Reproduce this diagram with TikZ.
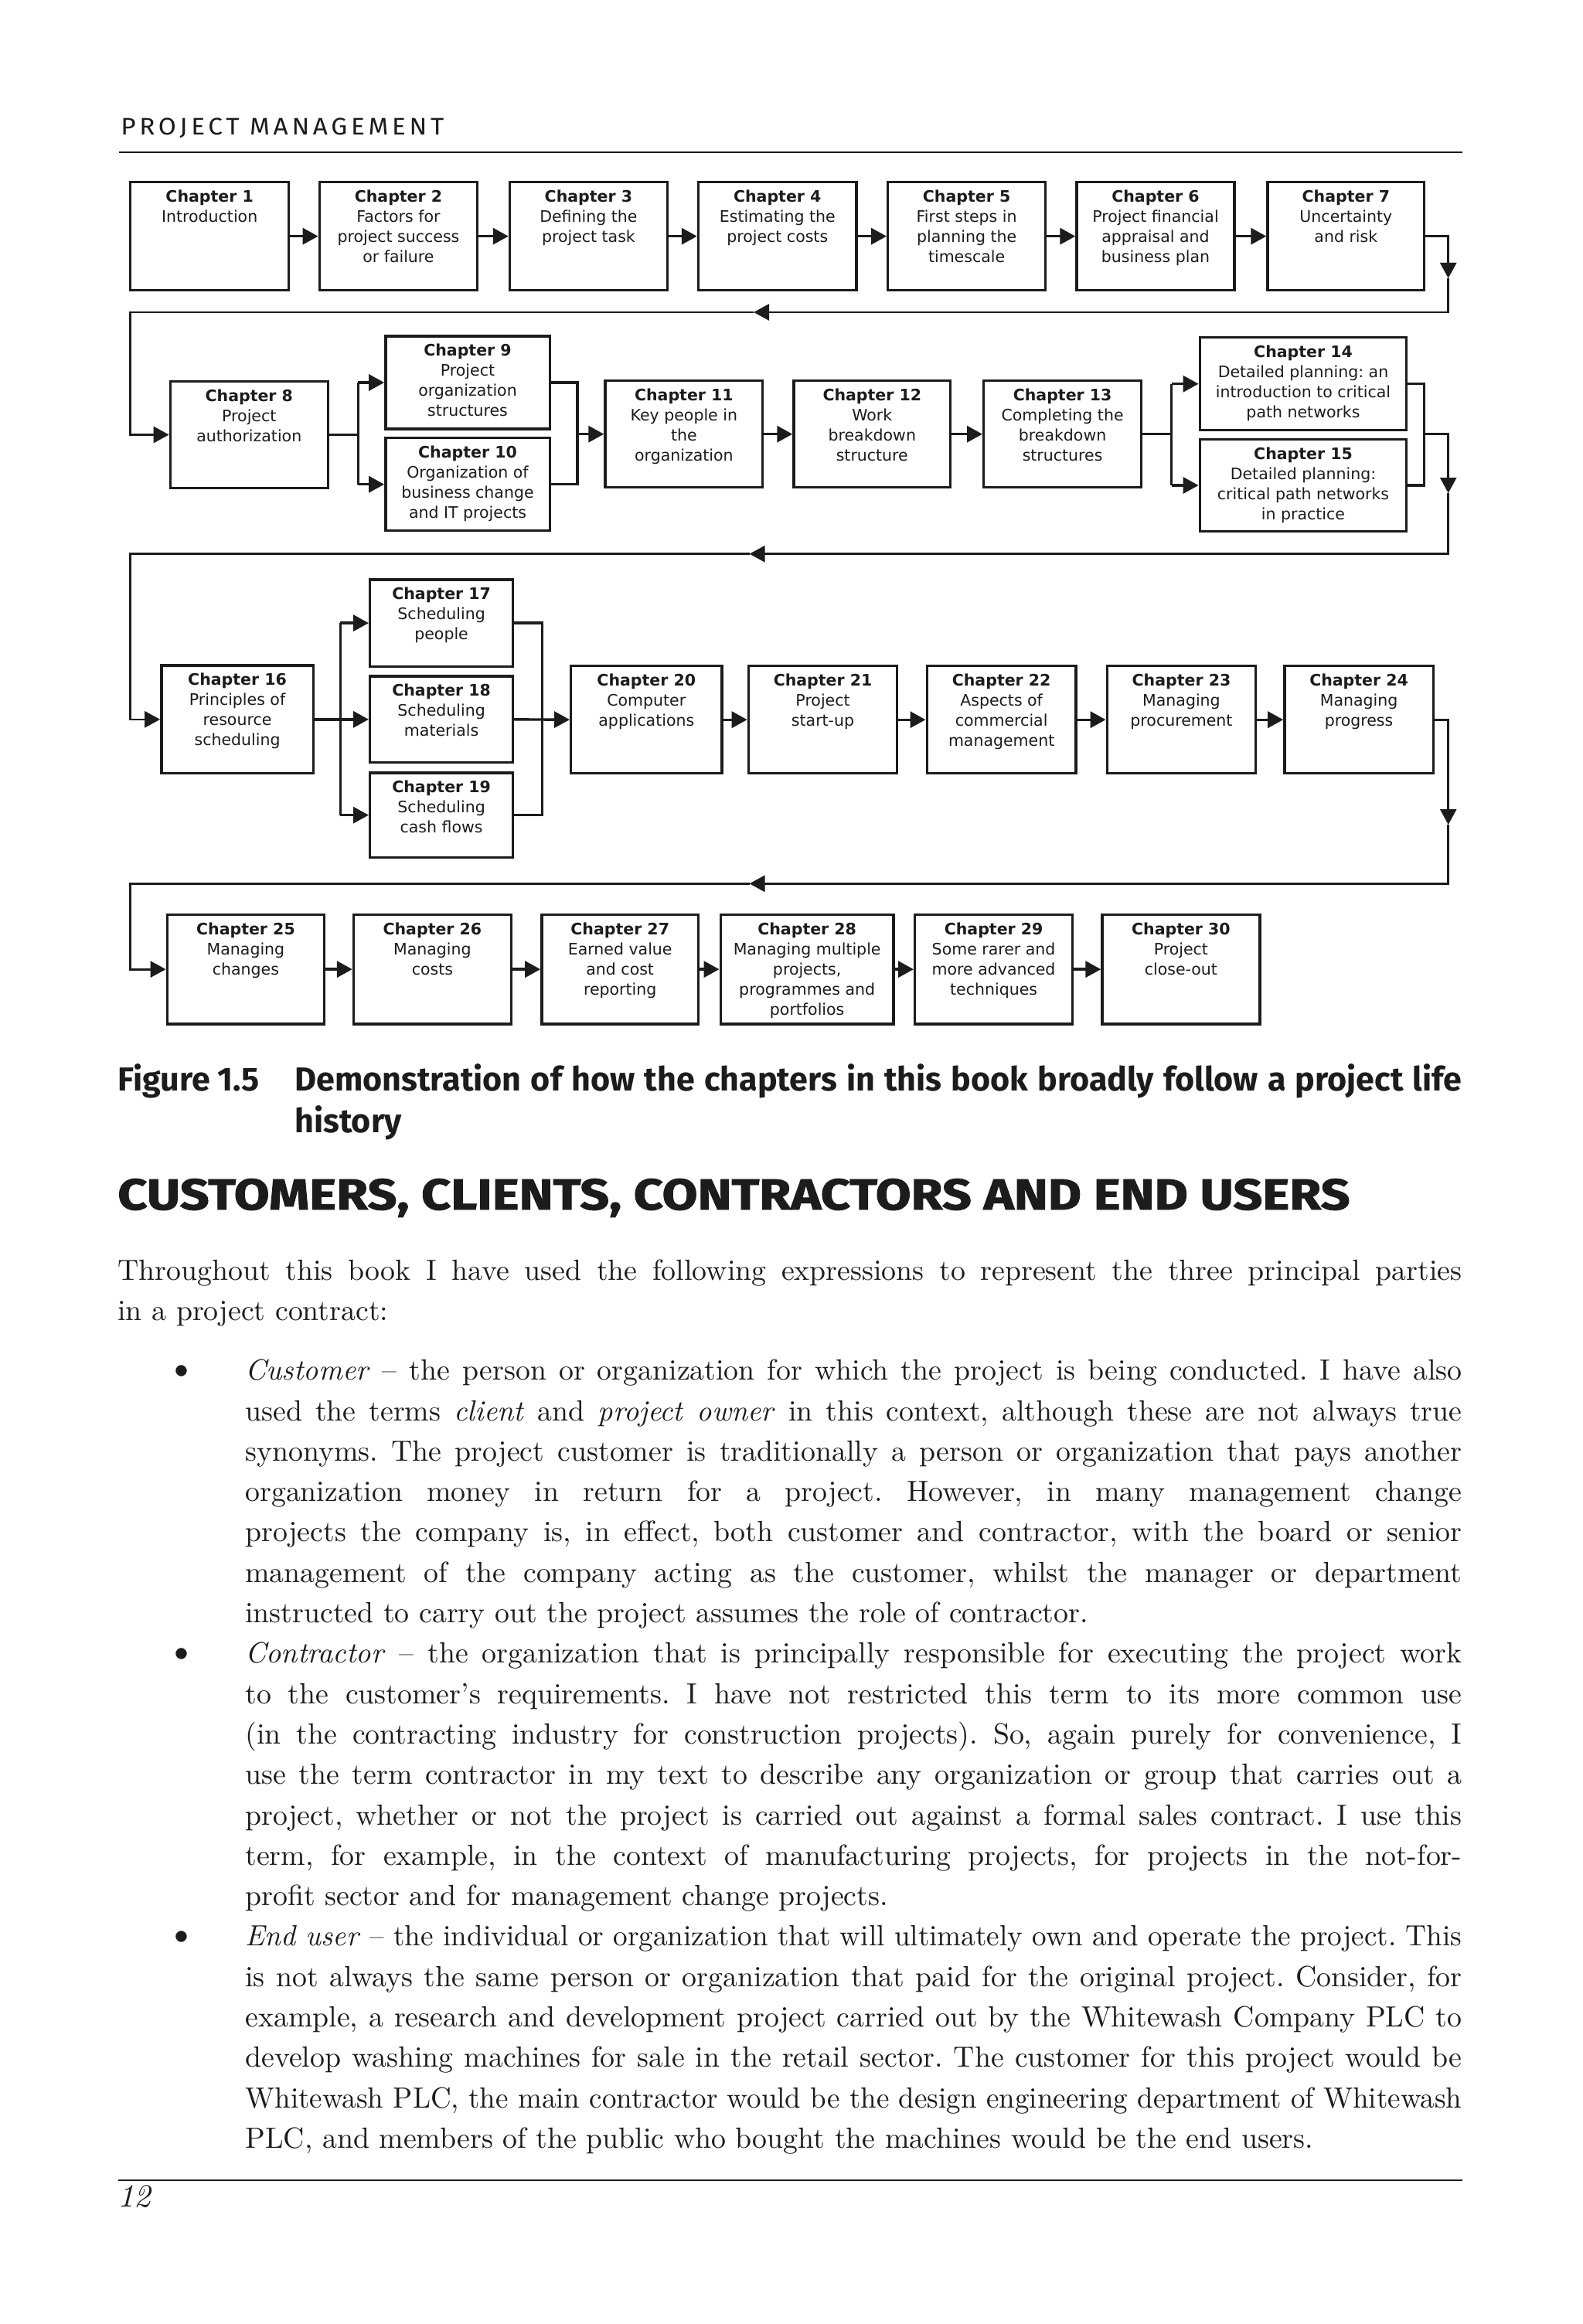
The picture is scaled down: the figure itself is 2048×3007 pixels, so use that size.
\documentclass[tikz,border=0pt]{standalone}
\usepackage{fontspec}
\usepackage{graphicx}
\usetikzlibrary{arrows.meta,fit}
\setmainfont{lmroman10-regular.otf}[ItalicFont=lmroman10-italic.otf, BoldFont=lmroman10-bold.otf]
\newfontfamily\boxfont{DejaVu Sans}
\newfontfamily\capfont{Fira Sans}
\newfontfamily\headfont[BoldFeatures={FakeBold=1.5}]{Fira Sans}
\newfontfamily\hdrfont[LetterSpace=14]{Fira Sans}
\definecolor{ink}{HTML}{1C1C1C}
\frenchspacing
\newsavebox\lbox
\newlength\lw
\newcommand\jl[2]{\setlength\lw{#1}\sbox\lbox{#2}\ifdim\wd\lbox>\lw\resizebox{\lw}{\height}{\usebox\lbox}\else\makebox[\lw][s]{#2}\fi}
\tikzset{
  chbox/.style={draw=ink, line width=1.7pt, fill=white, inner sep=0pt},
  chtext/.style={anchor=base, inner sep=0pt, text=ink, font=\boxfont\fontsize{10.25}{13}\selectfont},
  conn/.style={draw=ink, line width=1.7pt},
  arr/.style={conn, -{Triangle[length=10pt,width=10.5pt]}},
  wrapline/.style={draw=ink, line width=1.35pt},
  warr/.style={wrapline, -{Triangle[length=10pt,width=10.5pt]}},
  bodytext/.style={anchor=base west, inner sep=0pt, text=ink, font=\fontsize{18.9}{22}\selectfont\frenchspacing},
  bullet/.style={anchor=base west, inner sep=0pt, text=ink, font=\fontsize{25}{26}\selectfont},
  captext/.style={anchor=base west, inner sep=0pt, text=ink, font=\capfont\fontsize{21.5}{24}\selectfont\bfseries},
}
\newcommand\chap[7]{%
  \node[chbox, fit={(#2,#3) (#4,#5)}] (#1) {};
  \node[chtext] (#1t) at ([yshift=-13.75pt]#1.north) {\parbox[t]{170pt}{\centering\textbf{Chapter #6}\\#7}};
}
\newcommand\bline[4]{\node[bodytext] (#1) at (#2,#3) {#4};}
\begin{document}
\begin{tikzpicture}[x=0.5pt,y=-0.5pt]
\fill[white] (0,0) rectangle (2048,3007);
\useasboundingbox (0,0) rectangle (2048,3007);

% running header
\node[anchor=base west, inner sep=0pt, text=ink] (hdr) at (156,175) {\resizebox{209pt}{10.85pt}{\hdrfont PROJECT MANAGEMENT}};
\draw[ink, line width=1pt] (154,196.7) -- (1892,196.7);

% row 1
\chap{c1}{168.7}{235.7}{373.6}{375.7}{1}{Introduction}
\chap{c2}{413.3}{235.7}{617.6}{375.7}{2}{Factors for\\project success\\or failure}
\chap{c3}{659.5}{235.7}{863.3}{375.7}{3}{Defining the\\project task}
\chap{c4}{903.5}{235.7}{1108}{375.7}{4}{Estimating the\\project costs}
\chap{c5}{1148.7}{235.7}{1352.5}{375.7}{5}{First steps in\\planning the\\timescale}
\chap{c6}{1393}{235.7}{1597}{375.7}{6}{Project financial\\appraisal and\\business plan}
\chap{c7}{1640}{235.7}{1842.7}{375.7}{7}{Uncertainty\\and risk}

% row 2
\chap{c8}{220.4}{493.3}{424.2}{631.7}{8}{Project\\authorization}
\chap{c9}{498.8}{435}{711.2}{555}{9}{Project\\organization\\structures}
\chap{c10}{498.8}{566.7}{711.2}{686.7}{10}{Organization of\\business change\\and IT projects}
\chap{c11}{783}{492.7}{986.7}{630.7}{11}{Key people in\\the\\organization}
\chap{c12}{1027}{492.7}{1229.6}{630.7}{12}{Work\\breakdown\\structure}
\chap{c13}{1272.7}{492.7}{1476.5}{630.7}{13}{Completing the\\breakdown\\structures}
\chap{c14}{1552.3}{436.7}{1819.7}{556.7}{14}{Detailed planning: an\\introduction to critical\\path networks}
\chap{c15}{1552.3}{568.3}{1819.7}{687.7}{15}{Detailed planning:\\critical path networks\\in practice}

% row 3
\chap{c16}{208.9}{861}{405.2}{1000.7}{16}{Principles of\\resource\\scheduling}
\chap{c17}{478.7}{750}{663.5}{862.3}{17}{Scheduling\\people}
\chap{c18}{478.7}{875}{663.5}{986.7}{18}{Scheduling\\materials}
\chap{c19}{478.7}{1000}{663.5}{1109.3}{19}{Scheduling\\cash flows}
\chap{c20}{738.7}{861.7}{933.9}{1000.7}{20}{Computer\\applications}
\chap{c21}{968.4}{861.7}{1160.7}{1000.7}{21}{Project\\start-up}
\chap{c22}{1199.2}{861.7}{1392.1}{1000.7}{22}{Aspects of\\commercial\\management}
\chap{c23}{1432.3}{861.7}{1624.6}{1000.7}{23}{Managing\\procurement}
\chap{c24}{1661.9}{861.7}{1854.2}{1000.7}{24}{Managing\\progress}

% row 4
\chap{c25}{216.3}{1183.3}{419.6}{1325}{25}{Managing\\changes}
\chap{c26}{457.5}{1183.3}{661.3}{1325}{26}{Managing\\costs}
\chap{c27}{700.9}{1183.3}{903.5}{1325}{27}{Earned value\\and cost\\reporting}
\chap{c28}{932.2}{1183.3}{1156.1}{1325}{28}{Managing multiple\\projects,\\programmes and\\portfolios}
\chap{c29}{1183.7}{1183.3}{1387.5}{1325}{29}{Some rarer and\\more advanced\\techniques}
\chap{c30}{1426}{1183.3}{1629.8}{1325}{30}{Project\\close-out}

% helper coordinates
\coordinate (s2) at (463.2,0);
\coordinate (m2) at (746.8,0);
\coordinate (s2b) at (1515.5,0);
\coordinate (m2b) at (1842.7,0);
\coordinate (s3) at (440.2,0);
\coordinate (m3) at (701.4,0);
\coordinate (w1m) at (1873.7,360);
\coordinate (w1b) at (1873.7,404);
\coordinate (w1c) at (975,404);
\coordinate (w1d) at (168.7,404);
\coordinate (w2m) at (1873.7,638);
\coordinate (w2b) at (1873.7,716.7);
\coordinate (w2c) at (969.5,716.7);
\coordinate (w2d) at (168.7,716.7);
\coordinate (w3m) at (1873.7,1067);
\coordinate (w3b) at (1873.7,1143.3);
\coordinate (w3c) at (969.5,1143.3);
\coordinate (w3d) at (168.7,1143.3);

% row 1 connectors
\foreach \a/\b in {c1/c2,c2/c3,c3/c4,c4/c5,c5/c6,c6/c7}
  \draw[arr] (\a.east) -- (\b.west);
\draw[warr] (c7.east) -| (w1m);
\draw[warr] (w1m) -- (w1b) -- (w1c);
\draw[warr] (w1c) -- (w1d) |- (c8.west);

% row 2 connectors
\draw[conn] (c8.east) -- (s2 |- c8.east);
\draw[conn] (s2 |- c9.west) -- (s2 |- c10.west);
\draw[arr] (s2 |- c9.west) -- (c9.west);
\draw[arr] (s2 |- c10.west) -- (c10.west);
\draw[conn] (c9.east) -- (m2 |- c9.east) -- (m2 |- c10.east) -- (c10.east);
\draw[arr] (m2 |- c11.west) -- (c11.west);
\draw[arr] (c11.east) -- (c12.west);
\draw[arr] (c12.east) -- (c13.west);
\draw[conn] (c13.east) -- (s2b |- c13.east);
\draw[conn] (s2b |- c14.west) -- (s2b |- c15.west);
\draw[arr] (s2b |- c14.west) -- (c14.west);
\draw[arr] (s2b |- c15.west) -- (c15.west);
\draw[conn] (c14.east) -- (m2b |- c14.east) -- (m2b |- c15.east) -- (c15.east);
\draw[warr] (m2b |- c13.east) -| (w2m);
\draw[warr] (w2m) -- (w2b) -- (w2c);
\draw[warr] (w2c) -- (w2d) |- (c16.west);

% row 3 connectors
\draw[arr] (c16.east) -- (c18.west);
\draw[conn] (s3 |- c17.west) -- (s3 |- c19.west);
\draw[arr] (s3 |- c17.west) -- (c17.west);
\draw[arr] (s3 |- c19.west) -- (c19.west);
\draw[conn] (c17.east) -- (m3 |- c17.east) -- (m3 |- c19.east) -- (c19.east);
\draw[arr] (c18.east) -- (c20.west);
\foreach \a/\b in {c20/c21,c21/c22,c22/c23,c23/c24}
  \draw[arr] (\a.east) -- (\b.west);
\draw[warr] (c24.east) -| (w3m);
\draw[warr] (w3m) -- (w3b) -- (w3c);
\draw[warr] (w3c) -- (w3d) |- (c25.west);

% row 4 connectors
\foreach \a/\b in {c25/c26,c26/c27,c27/c28,c28/c29,c29/c30}
  \draw[arr] (\a.east) -- (\b.west);

% caption
\node[captext] (fig) at (152,1411.7) {Figure 1.5};
\node[captext] (cap1) at (381,1411.7) {\jl{755pt}{Demonstration of how the chapters in this book broadly follow a project life}};
\node[captext] (cap2) at (381,1465) {history};

% heading
\node[anchor=base west, inner sep=0pt, text=ink] (head) at (152,1565) {\resizebox{797pt}{20pt}{\headfont\bfseries CUSTOMERS, CLIENTS, CONTRACTORS AND END USERS}};

% body
\bline{t1}{152}{1656.5}{\jl{869.5pt}{Throughout this book I have used the following expressions to represent the three principal parties}}
\bline{t2}{152}{1708.8}{in a project contract:}
\node[bullet] (b1) at (215,1785.7) {•};
\bline{t3}{317}{1785.7}{\jl{787pt}{\textit{Customer} – the person or organization for which the project is being conducted. I have also}}
\bline{t4}{317}{1838}{\jl{787pt}{used the terms \textit{client} and \textit{project owner} in this context, although these are not always true}}
\bline{t5}{317}{1890.3}{\jl{787pt}{synonyms. The project customer is traditionally a person or organization that pays another}}
\bline{t6}{317}{1942.6}{\jl{787pt}{organization money in return for a project. However, in many management change}}
\bline{t7}{317}{1994.9}{\jl{787pt}{projects the company is, in effect, both customer and contractor, with the board or senior}}
\bline{t8}{317}{2047.2}{\jl{787pt}{management of the company acting as the customer, whilst the manager or department}}
\bline{t9}{317}{2099.5}{instructed to carry out the project assumes the role of contractor.}
\node[bullet] (b2) at (215,2151.8) {•};
\bline{t10}{317}{2151.8}{\jl{787pt}{\textit{Contractor} – the organization that is principally responsible for executing the project work}}
\bline{t11}{317}{2204.1}{\jl{787pt}{to the customer’s requirements. I have not restricted this term to its more common use}}
\bline{t12}{317}{2256.4}{\jl{787pt}{(in the contracting industry for construction projects). So, again purely for convenience, I}}
\bline{t13}{317}{2308.7}{\jl{787pt}{use the term contractor in my text to describe any organization or group that carries out a}}
\bline{t14}{317}{2361}{\jl{787pt}{project, whether or not the project is carried out against a formal sales contract. I use this}}
\bline{t15}{317}{2413.3}{\jl{787pt}{term, for example, in the context of manufacturing projects, for projects in the not-for-}}
\bline{t16}{317}{2465.6}{profit sector and for management change projects.}
\node[bullet] (b3) at (215,2517.9) {•};
\bline{t17}{317}{2517.9}{\jl{787pt}{\textit{End user} – the individual or organization that will ultimately own and operate the project. This}}
\bline{t18}{317}{2570.2}{\jl{787pt}{is not always the same person or organization that paid for the original project. Consider, for}}
\bline{t19}{317}{2622.5}{\jl{787pt}{example, a research and development project carried out by the Whitewash Company PLC to}}
\bline{t20}{317}{2674.8}{\jl{787pt}{develop washing machines for sale in the retail sector. The customer for this project would be}}
\bline{t21}{317}{2727.1}{\jl{787pt}{Whitewash PLC, the main contractor would be the design engineering department of Whitewash}}
\bline{t22}{317}{2779.4}{PLC, and members of the public who bought the machines would be the end users.}

% footer
\draw[ink, line width=1pt] (153,2821) -- (1892,2821);
\node[bodytext, font=\itshape\fontsize{21}{24}\selectfont] (pg) at (152,2855) {12};
\end{tikzpicture}
\end{document}
